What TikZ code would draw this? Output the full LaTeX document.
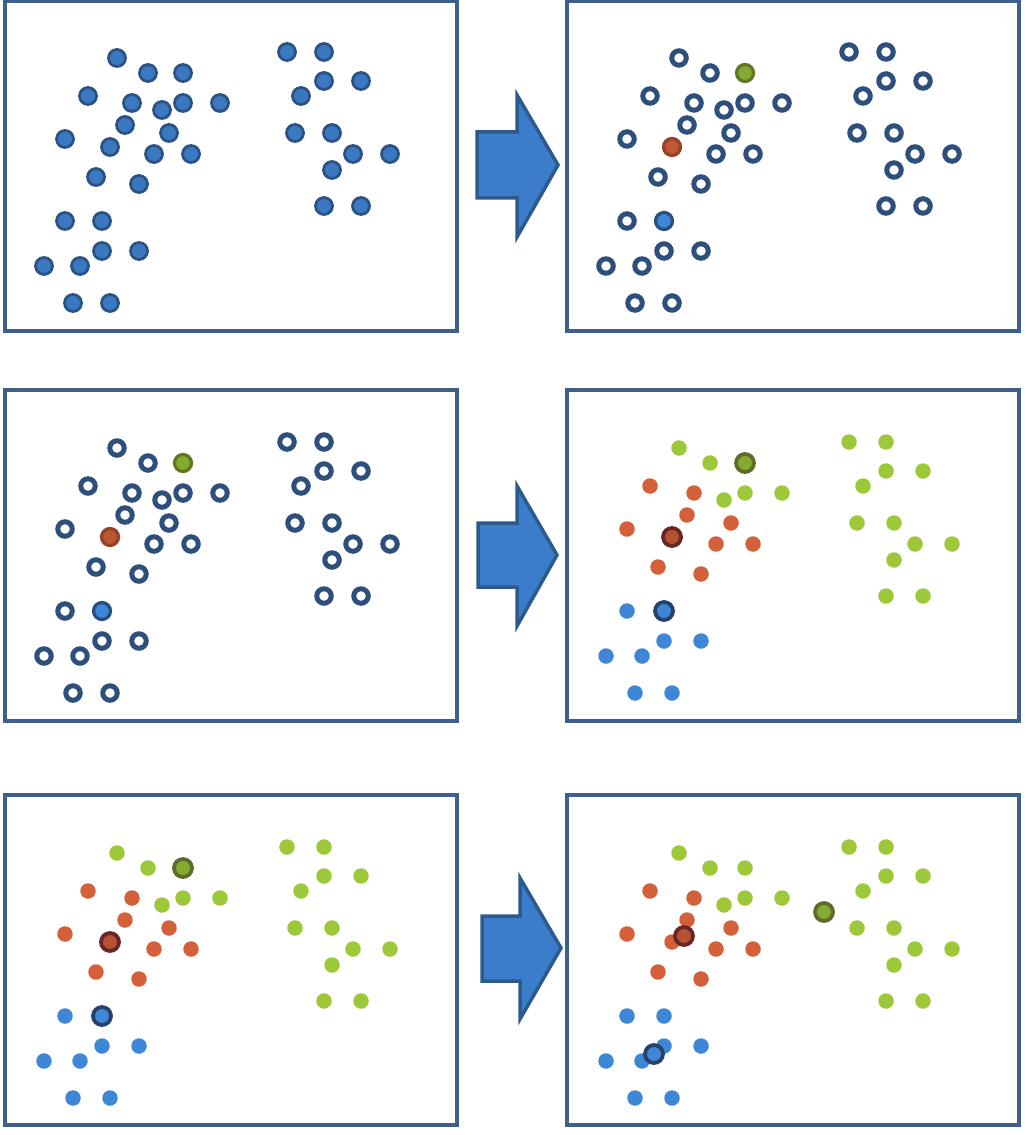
\documentclass[tikz,border=0pt]{standalone}
\usepackage{xcolor}
\definecolor{framecol}{HTML}{3E5F8A}
\definecolor{darkdot}{HTML}{3A78C2}
\definecolor{darkrim}{HTML}{2B5283}
\definecolor{ringcol}{HTML}{2E4F7C}
\definecolor{greenpt}{HTML}{9CC83A}
\definecolor{redpt}{HTML}{D4603A}
\definecolor{bluept}{HTML}{3E86D6}
\definecolor{greenrim}{HTML}{5F6B2A}
\definecolor{redrim}{HTML}{6A2626}
\definecolor{bluerim}{HTML}{26416A}
\definecolor{arrowfill}{HTML}{3C7DCB}
\definecolor{arrowrim}{HTML}{2D5A8E}
% the points of one panel, in pixels from its top left corner
\newcommand{\greenset}{117/58, 148/73, 162/110, 183/103, 220/103,
  287/52, 324/52, 324/81, 361/81, 301/96, 295/133, 332/133,
  353/154, 390/154, 332/170, 324/206, 361/206}
\newcommand{\redset}{88/96, 132/103, 125/125, 169/133, 65/139,
  154/154, 191/154, 96/177, 139/184}
\newcommand{\blueset}{65/221, 102/251, 139/251, 44/266, 80/266,
  73/303, 110/303}
\newcommand{\cloud}[3]{%
  \foreach \px/\py in \greenset {\path[#1] (\px,\py) circle;}
  \foreach \px/\py in \redset {\path[#2] (\px,\py) circle;}
  \foreach \px/\py in \blueset {\path[#3] (\px,\py) circle;}}

\begin{document}
\begin{tikzpicture}[
  x=0.02cm,
  y=-0.02cm,
  frame/.style={draw=framecol, line width=0.07cm},
  soliddot/.style={fill=darkdot, draw=darkrim, line width=0.055cm, radius=0.17cm},
  ring/.style={fill=white, draw=ringcol, line width=0.1cm, radius=0.145cm},
  gdot/.style={fill=greenpt, radius=0.155cm},
  rdot/.style={fill=redpt, radius=0.155cm},
  bdot/.style={fill=bluept, radius=0.155cm},
  gpick/.style={fill=greenpt!85!black, draw=greenpt!60!black, line width=0.065cm, radius=0.17cm},
  rpick/.style={fill=redpt!90!black, draw=redpt!70!black, line width=0.065cm, radius=0.17cm},
  bpick/.style={fill=bluept, draw=bluept!60!black, line width=0.065cm, radius=0.17cm},
  gseed/.style={fill=greenpt!85!black, draw=greenrim, line width=0.075cm, radius=0.18cm},
  rseed/.style={fill=redpt!85!black, draw=redrim, line width=0.075cm, radius=0.18cm},
  bseed/.style={fill=bluept, draw=bluerim, line width=0.075cm, radius=0.18cm},
  blockarrow/.style={fill=arrowfill, draw=arrowrim, line width=0.07cm, line join=miter}
]
  \useasboundingbox (0,0) rectangle (1035,1135);

  % ---- top row: the raw points, then three of them picked ---------------
  \begin{scope}
    \draw[frame] (5,1) rectangle (457,331);
    \cloud{soliddot}{soliddot}{soliddot}
    \path[soliddot] (183,73) circle;
    \path[soliddot] (110,147) circle;
    \path[soliddot] (102,221) circle;
  \end{scope}
  \draw[blockarrow] (477,132) -- (517,132) -- (517,95) -- (558,165)
    -- (517,237) -- (517,198) -- (477,198) -- cycle;
  \begin{scope}[shift={(562,0)}]
    \draw[frame] (5,1) rectangle (457,331);
    \cloud{ring}{ring}{ring}
    \path[gpick] (183,73) circle;
    \path[rpick] (110,147) circle;
    \path[bpick] (102,221) circle;
  \end{scope}

  % ---- middle row: every point goes to its nearest pick ----------------
  \begin{scope}[shift={(0,390)}]
    \draw[frame] (5,0) rectangle (457,331);
    \cloud{ring}{ring}{ring}
    \path[gpick] (183,73) circle;
    \path[rpick] (110,147) circle;
    \path[bpick] (102,221) circle;
  \end{scope}
  \draw[blockarrow] (478,523) -- (517,523) -- (517,486) -- (557,555)
    -- (517,626) -- (517,587) -- (478,587) -- cycle;
  \begin{scope}[shift={(562,390)}]
    \draw[frame] (5,0) rectangle (457,331);
    \cloud{gdot}{rdot}{bdot}
    \path[gseed] (183,73) circle;
    \path[rseed] (110,147) circle;
    \path[bseed] (102,221) circle;
  \end{scope}

  % ---- bottom row: the picks move to the middle of their groups --------
  \begin{scope}[shift={(0,795)}]
    \draw[frame] (5,0) rectangle (457,330);
    \cloud{gdot}{rdot}{bdot}
    \path[gseed] (183,73) circle;
    \path[rseed] (110,147) circle;
    \path[bseed] (102,221) circle;
  \end{scope}
  \draw[blockarrow] (482,916) -- (520,916) -- (520,878) -- (561,948)
    -- (520,1019) -- (520,981) -- (482,981) -- cycle;
  \begin{scope}[shift={(562,795)}]
    \draw[frame] (5,0) rectangle (457,330);
    \cloud{gdot}{rdot}{bdot}
    \path[gdot] (183,73) circle;
    \path[rdot] (110,147) circle;
    \path[bdot] (102,221) circle;
    % the new centres sit over the old points
    \path[gseed] (262,117) circle;
    \path[rseed] (122,141) circle;
    \path[bseed] (92,259) circle;
  \end{scope}
\end{tikzpicture}
\end{document}
